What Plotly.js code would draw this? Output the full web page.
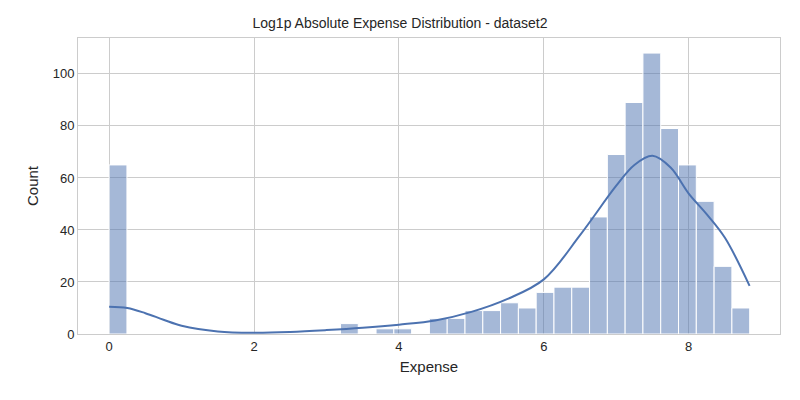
<!DOCTYPE html>
<html>
<head>
<meta charset="utf-8">
<script src="https://cdn.plot.ly/plotly-3.0.1.min.js"></script>
<style>body{margin:0;background:#fff}#chart{width:800px;height:400px}</style>
</head>
<body>
<div id="chart"></div>
<script>
// histogram: 36 bins starting at 0
const binStart = 0
const binWidth = 0.2456
const binCounts = [65, 0, 0, 0, 0, 0, 0, 0, 0, 0, 0, 0, 0, 4, 0, 2, 2, 0,
    6, 6, 9, 9, 12, 10, 16, 18, 18, 45, 69, 89, 108, 79, 65, 51, 26, 10]

// kde curve (scaled to counts)
const kdeX = [0, 0.25, 0.5, 0.75, 1, 1.5, 2, 2.5, 3, 3.5, 4, 4.5, 5, 5.5, 6, 6.5, 7, 7.25, 7.5, 7.75, 8, 8.25, 8.5, 8.84]
const kdeY = [10.5, 10, 8, 5.5, 3.2, 1, 0.5, 0.8, 1.5, 2.4, 3.6, 5.2, 8.5, 13.5, 21, 38, 57, 65, 68.5, 64, 54, 46, 37, 18.5]

const barX = binCounts.map((c, i) => binStart + binWidth * (i + 0.5))

const traces = [{
    type: 'bar',
    x: barX,
    y: binCounts,
    width: binWidth,
    marker: {color: 'rgba(76,114,176,0.5)', line: {color: '#ffffff', width: 1}},
    hoverinfo: 'x+y',
    showlegend: false
}, {
    type: 'scatter',
    mode: 'lines',
    x: kdeX,
    y: kdeY,
    line: {color: '#4c72b0', width: 2, shape: 'spline'},
    showlegend: false
}]

const axisStyle = {
    showgrid: true,
    gridcolor: '#cccccc',
    gridwidth: 1,
    zeroline: false,
    showline: true,
    linecolor: '#cccccc',
    mirror: true,
    ticks: '',
    tickfont: {size: 13, color: '#262626'},
    layer: 'below traces'
}

const layout = {
    width: 800,
    height: 400,
    margin: {l: 78, r: 20, t: 38, b: 66},
    paper_bgcolor: '#ffffff',
    plot_bgcolor: '#ffffff',
    font: {family: 'Liberation Sans, Arial, sans-serif', color: '#262626'},
    bargap: 0,
    title: {text: 'Log1p Absolute Expense Distribution - dataset2', x: 0.5, xanchor: 'center', y: 0.955, font: {size: 14}},
    xaxis: Object.assign({}, axisStyle, {
        range: [-0.43, 9.26],
        tickvals: [0, 2, 4, 6, 8],
        title: {text: 'Expense', font: {size: 15}, standoff: 8}
    }),
    yaxis: Object.assign({}, axisStyle, {
        range: [0, 113.8],
        tickvals: [0, 20, 40, 60, 80, 100],
        title: {text: 'Count', font: {size: 15}, standoff: 10}
    })
}

Plotly.newPlot('chart', traces, layout, {displayModeBar: false, staticPlot: true})
</script>
</body>
</html>
